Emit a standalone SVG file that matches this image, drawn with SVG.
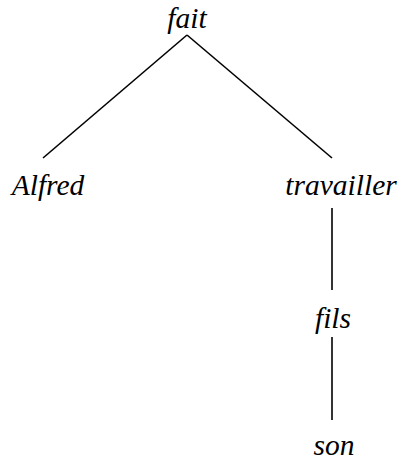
<svg xmlns="http://www.w3.org/2000/svg" width="401" height="461" viewBox="0 0 401 461">
<style>
text{font-family:'Liberation Serif','DejaVu Serif',serif;font-style:italic;font-size:29.5px;fill:#000;text-anchor:middle}
.c line{stroke:#000;stroke-width:1.6}
</style>
<rect width="401" height="461" fill="#fff"/>
<g class="c" id="connectors">
<line x1="187" y1="35" x2="43" y2="158"/>
<line x1="187" y1="35" x2="332" y2="158"/>
<line x1="332" y1="208" x2="332" y2="290"/>
<line x1="332" y1="337" x2="332" y2="420"/>
</g>
<g id="n-fait"><text x="187" y="28">fait</text></g>
<g id="n-alfred"><text x="48" y="195">Alfred</text></g>
<g id="n-travailler"><text x="341" y="195">travailler</text></g>
<g id="n-fils"><text x="333" y="328">fils</text></g>
<g id="n-son"><text x="334" y="455">son</text></g>
</svg>
